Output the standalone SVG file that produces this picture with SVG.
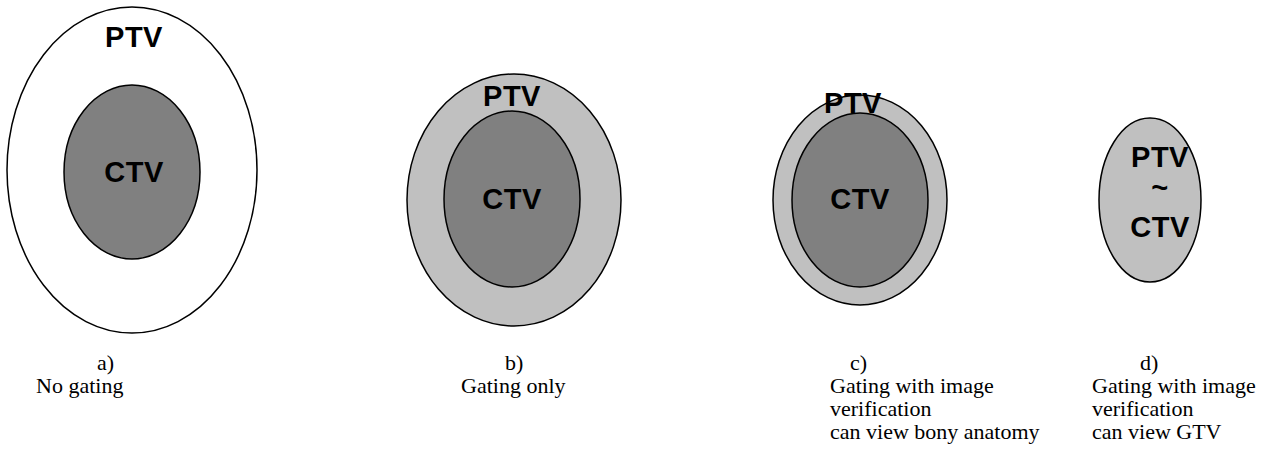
<svg xmlns="http://www.w3.org/2000/svg" width="1275" height="455" viewBox="0 0 1275 455">
<style>
.o{stroke:#000;stroke-width:1.5}
.w{fill:#fff}
.lg{fill:#c0c0c0}
.dg{fill:#808080}
.lb{font-family:"Liberation Sans",Arial,sans-serif;font-weight:bold;font-size:29px;letter-spacing:0.5px;fill:#000;text-anchor:middle}
.cap{font-family:"Liberation Serif","Times New Roman",serif;font-size:22px;fill:#000}
</style>
<rect width="1275" height="455" fill="#fff"/>
<g id="nodeA">
<ellipse class="o w" cx="132" cy="170" rx="125" ry="163"/>
<ellipse class="o dg" cx="132" cy="172" rx="68" ry="87"/>
<text class="lb" x="134" y="47">PTV</text>
<text class="lb" x="134" y="182">CTV</text>
<text class="cap" x="97" y="370">a)</text>
<text class="cap" x="36" y="393">No gating</text>
</g>
<g id="nodeB">
<ellipse class="o lg" cx="514" cy="200" rx="107" ry="126"/>
<ellipse class="o dg" cx="512" cy="199" rx="68" ry="88"/>
<text class="lb" x="512" y="106">PTV</text>
<text class="lb" x="512" y="209">CTV</text>
<text class="cap" x="505" y="370">b)</text>
<text class="cap" x="461" y="393">Gating only</text>
</g>
<g id="nodeC">
<ellipse class="o lg" cx="860" cy="200" rx="87" ry="105"/>
<ellipse class="o dg" cx="860" cy="200" rx="68" ry="87"/>
<text class="lb" x="853" y="113">PTV</text>
<text class="lb" x="860" y="209">CTV</text>
<text class="cap" x="850" y="370">c)</text>
<text class="cap" x="830" y="393">Gating with image</text>
<text class="cap" x="830" y="416">verification</text>
<text class="cap" x="830" y="439">can view bony anatomy</text>
</g>
<g id="nodeD">
<ellipse class="o lg" cx="1150" cy="200" rx="51" ry="82"/>
<text class="lb" x="1160" y="167">PTV</text>
<text class="lb" x="1160" y="197">~</text>
<text class="lb" x="1160" y="237">CTV</text>
<text class="cap" x="1140" y="370">d)</text>
<text class="cap" x="1092" y="393">Gating with image</text>
<text class="cap" x="1092" y="416">verification</text>
<text class="cap" x="1092" y="439">can view GTV</text>
</g>
<g id="connectors"></g>
</svg>
